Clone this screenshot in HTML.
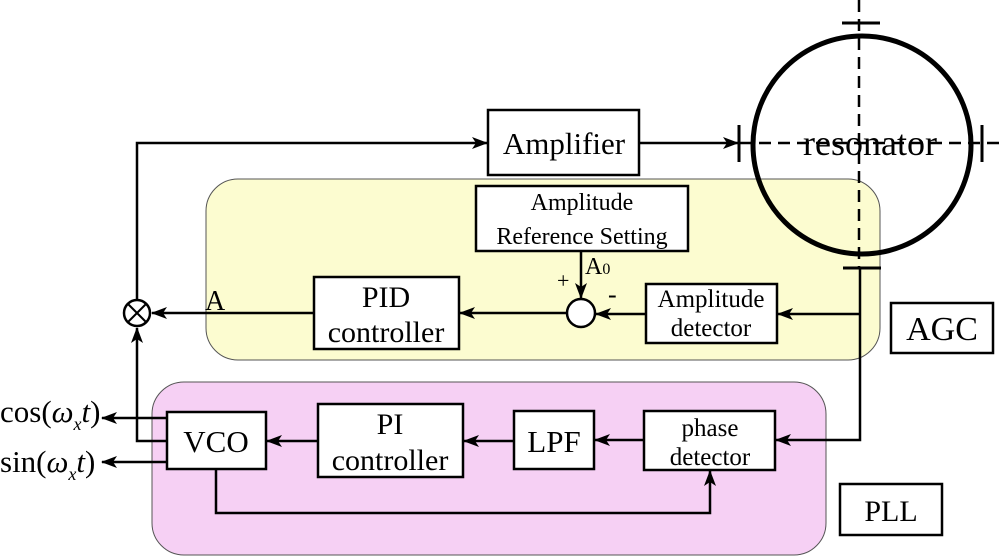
<!DOCTYPE html>
<html><head><meta charset="utf-8"><style>
html,body{margin:0;padding:0;background:#fff;width:1000px;height:557px;overflow:hidden}
text{font-family:"Liberation Serif","DejaVu Serif",serif;fill:#000}
</style></head><body>
<svg width="1000" height="557" viewBox="0 0 1000 557" xmlns="http://www.w3.org/2000/svg" font-family="Liberation Serif, serif">
<defs>
<marker id="ar" markerWidth="16" markerHeight="12" refX="15" refY="6" orient="auto" markerUnits="userSpaceOnUse">
<path d="M0,0 L16,6 L0,12 L4,6 Z" fill="#000"/>
</marker>
</defs>
<rect x="206" y="179" width="674" height="181" rx="32" fill="#fcfcd0" stroke="#555" stroke-width="1"/>
<rect x="152" y="382" width="674" height="173" rx="32" fill="#f6d0f4" stroke="#555" stroke-width="1"/>

<g stroke="#000" stroke-width="2.5" fill="none">
<polyline points="137,299 137,143 487,143" marker-end="url(#ar)"/>
<line x1="639" y1="143" x2="738" y2="143" marker-end="url(#ar)"/>
<line x1="581" y1="251" x2="581" y2="298" marker-end="url(#ar)"/>
<line x1="646" y1="314" x2="596" y2="314" marker-end="url(#ar)"/>
<line x1="860" y1="314" x2="778" y2="314" marker-end="url(#ar)"/>
<line x1="567" y1="313" x2="460" y2="313" marker-end="url(#ar)"/>
<line x1="314" y1="313" x2="152" y2="313" marker-end="url(#ar)"/>
<polyline points="167,441 137,441 137,328" marker-end="url(#ar)"/>
<line x1="167" y1="418" x2="102" y2="418" marker-end="url(#ar)"/>
<line x1="167" y1="462" x2="102" y2="462" marker-end="url(#ar)"/>
<line x1="318" y1="441" x2="267" y2="441" marker-end="url(#ar)"/>
<line x1="514" y1="441" x2="464" y2="441" marker-end="url(#ar)"/>
<line x1="644" y1="440" x2="595" y2="440" marker-end="url(#ar)"/>
<polyline points="860,268 860,440 776,440" marker-end="url(#ar)"/>
<polyline points="216,469 216,513 710,513 710,471" marker-end="url(#ar)"/>
</g>

<ellipse cx="862" cy="145" rx="109" ry="109" fill="none" stroke="#000" stroke-width="5"/>
<g stroke="#000" stroke-width="2.5" fill="none">
<line x1="859" y1="0" x2="859" y2="268" stroke-dasharray="12,7"/>
<line x1="740" y1="143" x2="1000" y2="143" stroke-dasharray="12,7"/>
<line x1="842" y1="23" x2="880" y2="23" stroke-width="3"/>
<line x1="843" y1="268" x2="881" y2="268" stroke-width="3"/>
<line x1="739" y1="125" x2="739" y2="162" stroke-width="3"/>
<line x1="982" y1="125" x2="982" y2="162" stroke-width="3"/>
</g>
<text x="870" y="155" font-size="36" text-anchor="middle">resonator</text>

<circle cx="137" cy="313" r="13" fill="#fff" stroke="#000" stroke-width="2.5"/>
<line x1="128" y1="304" x2="146" y2="322" stroke="#000" stroke-width="2"/>
<line x1="146" y1="304" x2="128" y2="322" stroke="#000" stroke-width="2"/>
<circle cx="581" cy="313" r="14" fill="#fff" stroke="#000" stroke-width="2.5"/>

<g fill="#fff" stroke="#000" stroke-width="2.5">
<rect x="488" y="110" width="151" height="65"/>
<rect x="476" y="186" width="212" height="65"/>
<rect x="646" y="284" width="131" height="59"/>
<rect x="314" y="277" width="145" height="72"/>
<rect x="891" y="303" width="102" height="50"/>
<rect x="167" y="412" width="99" height="57"/>
<rect x="318" y="404" width="145" height="73"/>
<rect x="514" y="411" width="80" height="58"/>
<rect x="644" y="411" width="131" height="59"/>
<rect x="840" y="484" width="102" height="51"/>
</g>

<text x="564" y="154" font-size="31" text-anchor="middle">Amplifier</text>
<text x="582" y="210" font-size="24" text-anchor="middle">Amplitude</text>
<text x="582" y="244" font-size="24" text-anchor="middle">Reference Setting</text>
<text x="711" y="307" font-size="25" text-anchor="middle">Amplitude</text>
<text x="711" y="336" font-size="25" text-anchor="middle">detector</text>
<text x="386" y="307" font-size="30" text-anchor="middle">PID</text>
<text x="386" y="342" font-size="30" text-anchor="middle">controller</text>
<text x="942" y="340" font-size="34" text-anchor="middle">AGC</text>
<text x="216" y="452" font-size="31" text-anchor="middle">VCO</text>
<text x="390" y="434" font-size="30" text-anchor="middle">PI</text>
<text x="390" y="470" font-size="30" text-anchor="middle">controller</text>
<text x="554" y="452" font-size="31" text-anchor="middle">LPF</text>
<text x="710" y="436" font-size="25" text-anchor="middle">phase</text>
<text x="710" y="465" font-size="25" text-anchor="middle">detector</text>
<text x="891" y="521" font-size="30" text-anchor="middle">PLL</text>
<text x="205" y="310" font-size="28">A</text>
<text x="585" y="274" font-size="24">A<tspan font-size="16">0</tspan></text>
<text x="557" y="288" font-size="22">+</text>
<text x="608" y="303" font-size="26">-</text>
<text x="0" y="422" font-size="31">cos(<tspan font-style="italic">ω</tspan><tspan font-style="italic" font-size="18" dy="8">x</tspan><tspan font-style="italic" dy="-8">t</tspan>)</text>
<text x="0" y="472" font-size="31">sin(<tspan font-style="italic">ω</tspan><tspan font-style="italic" font-size="18" dy="8">x</tspan><tspan font-style="italic" dy="-8">t</tspan>)</text>
</svg>
</body></html>
